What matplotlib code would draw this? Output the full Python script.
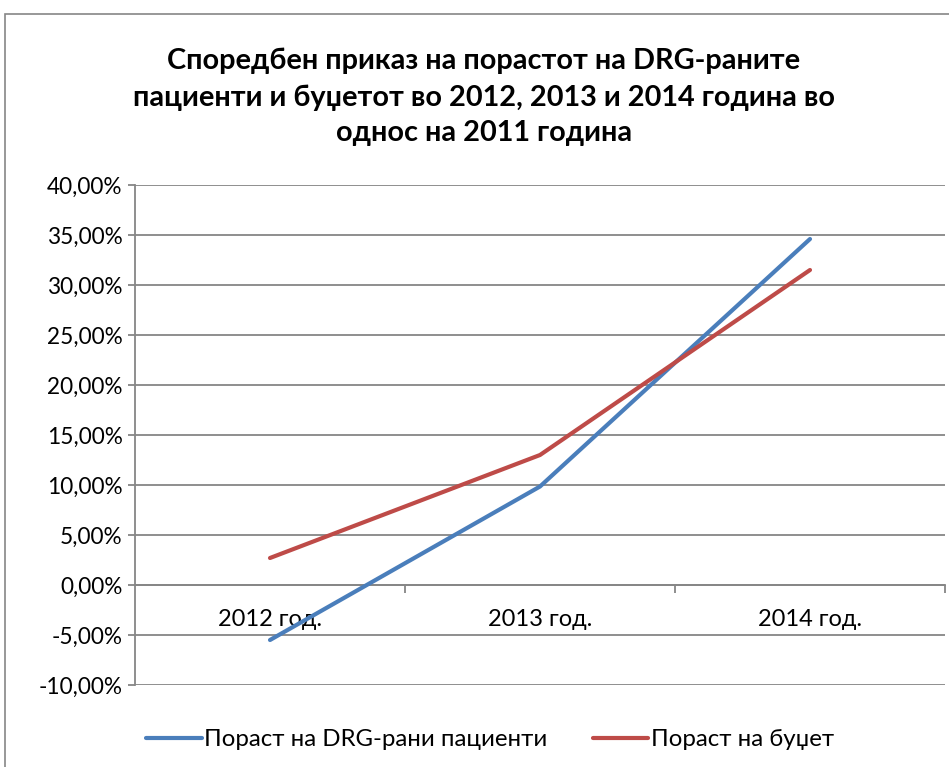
import matplotlib.pyplot as plt
from matplotlib.patches import Rectangle
from matplotlib.ticker import FuncFormatter

plt.rcParams['font.family'] = ['Lato', 'DejaVu Sans']

categories = ['2012 год.', '2013 год.', '2014 год.']
drg_patients = [-5.5, 9.85, 34.6]
budget = [2.7, 13.0, 31.5]
series_names = ['Пораст на DRG-рани пациенти', 'Пораст на буџет']
title = ('Споредбен приказ на порастот на DRG-раните\n'
         'пациенти и буџетот во 2012, 2013 и 2014 година во\n'
         'однос на 2011 година')

fig = plt.figure(figsize=(9.49, 7.67), dpi=100)
# chart border (Excel frame)
fig.patches.append(Rectangle((5 / 949, -0.1), 1.1, 1 - 14 / 767 + 0.1,
                             transform=fig.transFigure, fill=False,
                             edgecolor='#868686', linewidth=1.2))

ax = fig.add_axes([135 / 949, 1 - 685 / 767, 810 / 949, 500 / 767])
x = range(len(categories))
ax.plot(x, drg_patients, color='#4A7EBB', lw=3, solid_capstyle='round',
        solid_joinstyle='round', label=series_names[0], zorder=3)
ax.plot(x, budget, color='#BE4B48', lw=3, solid_capstyle='round',
        solid_joinstyle='round', label=series_names[1], zorder=3)

ax.set_xlim(-0.5, 2.5)
ax.set_ylim(-10, 40)
ax.set_yticks(range(-10, 41, 5))
ax.yaxis.set_major_formatter(FuncFormatter(lambda v, p: f'{v:.2f}%'.replace('.', ',')))
ax.grid(axis='y', color='#868686', lw=1.3)
ax.set_axisbelow(True)

for s in ['top', 'right']:
    ax.spines[s].set_visible(False)
ax.spines['left'].set_color('#868686')
ax.spines['left'].set_linewidth(1.3)
ax.spines['bottom'].set_position(('data', 0))
ax.spines['bottom'].set_color('#868686')
ax.spines['bottom'].set_linewidth(1.3)

ax.set_xticks(list(x))
ax.set_xticklabels(categories)
ax.set_xticks([0.5, 1.5, 2.5], minor=True)
ax.tick_params(axis='x', which='major', length=0, pad=17, labelsize=17)
ax.tick_params(axis='x', which='minor', length=6, color='#868686', width=1.3)
ax.tick_params(axis='y', length=5, color='#868686', width=1.3, labelsize=16.3, pad=4)

fig.text(484 / 949, 1 - 97 / 767, title, ha='center', va='center',
         fontsize=20.8, fontweight='bold', linespacing=1.45)

fig.legend(loc='center', bbox_to_anchor=(490 / 949, 1 - 740 / 767), ncol=2,
           frameon=False, fontsize=17.3, handlelength=2.3, handletextpad=0.1,
           columnspacing=1.9)

fig.savefig('out.png', dpi=100)
